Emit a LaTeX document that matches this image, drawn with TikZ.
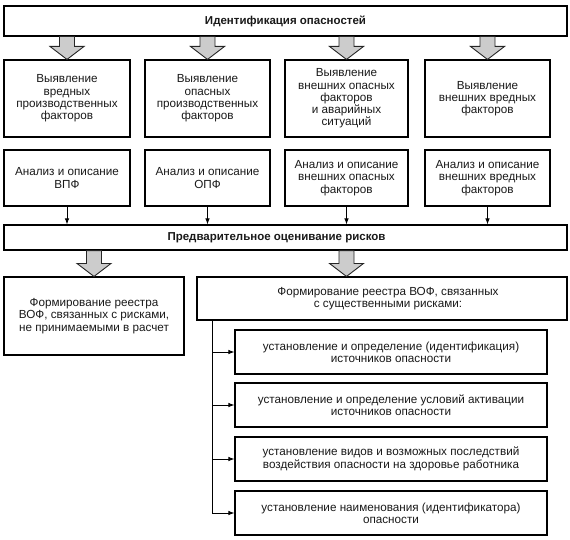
\documentclass[tikz,border=0pt]{standalone}
\usepackage{fontspec}
\setmainfont{Liberation Sans}
\usetikzlibrary{calc,arrows.meta}
\tikzset{
  box/.style={draw=black, line width=1.1pt, rectangle, inner sep=2pt, align=center,
    font=\fontsize{11.7pt}{12.3pt}\selectfont, text=black!90},
  titlebox/.style={box, font=\fontsize{11.5pt}{12.3pt}\selectfont\bfseries},
  fatarr/.style={draw=black!85, fill=black!20, line width=0.9pt, line join=miter},
  thinarr/.style={draw=black, line width=0.9pt, -{Latex[length=6pt,width=4.5pt]}},
  trunk/.style={draw=black, line width=0.9pt}
}
\newcommand\fatarrow[2]{%
  \filldraw[fatarr] ($(#1)+(-7.5,0)$) -- ($(#2)+(-7.5,-13)$) -- ($(#2)+(-17,-13)$) -- (#2)
    -- ($(#2)+(17,-13)$) -- ($(#2)+(7.5,-13)$) -- ($(#1)+(7.5,0)$) -- cycle;}
\begin{document}
\begin{tikzpicture}[x=1pt, y=-1pt]
\useasboundingbox (0,0) rectangle (570,540);
% top
\node[titlebox, minimum width=563pt, minimum height=30pt] (top) at (285.5,21) {Идентификация опасностей};
% row 1
\node[box, minimum width=126pt, minimum height=77pt] (b1) at (67,98.5) {Выявление\\вредных\\производственных\\факторов};
\node[box, minimum width=125pt, minimum height=77pt] (b2) at (207.5,98.5) {Выявление\\опасных\\производственных\\факторов};
\node[box, minimum width=123pt, minimum height=77pt] (b3) at (346.5,98.5) {Выявление\\внешних опасных\\факторов\\и аварийных\\ситуаций};
\node[box, minimum width=125pt, minimum height=77pt] (b4) at (487.5,98.5) {Выявление\\внешних вредных\\факторов};
% row 2
\node[box, minimum width=126pt, minimum height=56pt] (c1) at (67,178) {Анализ и описание\\ВПФ};
\node[box, minimum width=125pt, minimum height=56pt] (c2) at (207.5,178) {Анализ и описание\\ОПФ};
\node[box, minimum width=123pt, minimum height=56pt] (c3) at (346.5,178) {Анализ и описание\\внешних опасных\\факторов};
\node[box, minimum width=125pt, minimum height=56pt] (c4) at (487.5,178) {Анализ и описание\\внешних вредных\\факторов};
% middle
\node[titlebox, minimum width=563pt, minimum height=25pt] (mid) at (285.5,237.5) {Предварительное оценивание рисков\hspace{18pt}};
% bottom
\node[box, minimum width=180pt, minimum height=78pt] (L3) at (94,316) {Формирование реестра\\ВОФ, связанных с рисками,\\не принимаемыми в расчет};
\node[box, minimum width=370pt, minimum height=43pt] (R3) at (382,298.5) {\hspace{12pt}Формирование реестра ВОФ, связанных\\\hspace{12pt}с существенными рисками:};
\node[box, minimum width=312pt, minimum height=44pt] (s1) at (391,352) {установление и определение (идентификация)\\источников опасности};
\node[box, minimum width=312pt, minimum height=44pt] (s2) at (391,405) {установление и определение условий активации\\источников опасности};
\node[box, minimum width=312pt, minimum height=44pt] (s3) at (391,459) {установление видов и возможных последствий\\воздействия опасности на здоровье работника};
\node[box, minimum width=312pt, minimum height=44pt] (s4) at (391,513) {установление наименования (идентификатора)\\опасности};
% fat arrows
\coordinate (fa1) at (b1.north |- top.south);
\coordinate (fa2) at (b2.north |- top.south);
\coordinate (fa3) at (b3.north |- top.south);
\coordinate (fa4) at (b4.north |- top.south);
\fatarrow{fa1}{b1.north}
\fatarrow{fa2}{b2.north}
\fatarrow{fa3}{b3.north}
\fatarrow{fa4}{b4.north}
\coordinate (fa5) at (L3.north |- mid.south);
\coordinate (fa6) at (c3.south |- mid.south);
\coordinate (fa6t) at (c3.south |- R3.north);
\fatarrow{fa5}{L3.north}
\fatarrow{fa6}{fa6t}
% thin arrows
\foreach \n in {c1,c2,c3,c4}{\draw[thinarr] (\n.south) -- (\n.south |- mid.north);}
\coordinate (tr) at ($(R3.south west)+(16,0)$);
\draw[trunk] (tr) -- (tr |- s4.west);
\foreach \n in {s1,s2,s3,s4}{\draw[thinarr] (tr |- \n.west) -- (\n.west);}
\end{tikzpicture}
\end{document}
